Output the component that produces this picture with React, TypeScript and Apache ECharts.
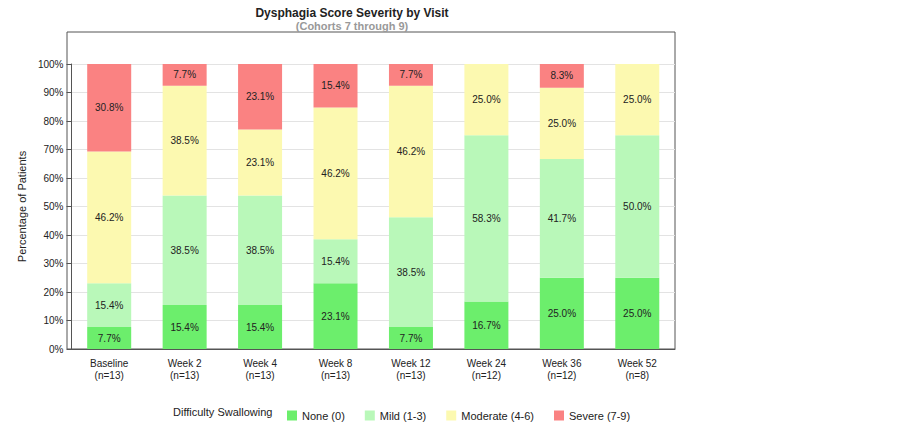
import * as echarts from "echarts";
import { useEffect, useRef } from "react";

const categories = ["Baseline\n(n=13)", "Week 2\n(n=13)", "Week 4\n(n=13)", "Week 8\n(n=13)", "Week 12\n(n=13)", "Week 24\n(n=12)", "Week 36\n(n=12)", "Week 52\n(n=8)"];
const none = [7.7, 15.4, 15.4, 23.1, 7.7, 16.7, 25.0, 25.0];
const mild = [15.4, 38.5, 38.5, 15.4, 38.5, 58.3, 41.7, 50.0];
const moderate = [46.2, 38.5, 23.1, 46.2, 46.2, 25.0, 25.0, 25.0];
const severe = [30.8, 7.7, 23.1, 15.4, 7.7, 0, 8.3, 0];

const FONT = "Arial, 'Liberation Sans', sans-serif";
const INK = "#222";

function seriesOf(name: string, data: number[], color: string) {
  return {
    name,
    type: "bar" as const,
    stack: "s",
    data,
    barWidth: 44,
    itemStyle: { color },
    label: {
      show: true,
      position: "inside" as const,
      color: INK,
      fontSize: 10,
      fontFamily: FONT,
      formatter: (p: any) => (p.value > 0 ? p.value.toFixed(1) + "%" : ""),
    },
  };
}

export default function App() {
  const ref = useRef<HTMLDivElement>(null);
  useEffect(() => {
    const el = ref.current;
    if (!el) return;
    const chart = echarts.init(el, undefined, { renderer: "svg" });
    chart.setOption({
      animation: false,
      textStyle: { fontFamily: FONT },
      title: {
        text: "Dysphagia Score Severity by Visit",
        subtext: "(Cohorts 7 through 9)",
        left: 339,
        textAlign: "center",
        top: -6,
        itemGap: 1,
        textStyle: { fontSize: 12, fontWeight: "bold", color: INK, fontFamily: FONT },
        subtextStyle: { fontSize: 11, fontWeight: "bold", color: "#999", fontFamily: FONT },
      },
      grid: { left: 59, right: 229, top: 56, bottom: 74 },
      legend: {
        left: 274,
        top: 397,
        itemWidth: 10,
        itemHeight: 10,
        itemGap: 20,
        icon: "rect",
        textStyle: { fontSize: 11, color: INK, fontFamily: FONT },
      },
      graphic: [
        {
          type: "rect",
          shape: { x: 59, y: 24, width: 608, height: 317 },
          style: { fill: "none", stroke: "#555", lineWidth: 1 },
          silent: true,
        },
        {
          type: "text",
          x: 165,
          y: 398,
          style: { text: "Difficulty Swallowing", fontSize: 11, fill: INK, fontFamily: FONT },
        },
      ],
      xAxis: {
        type: "category",
        data: categories,
        axisLine: { lineStyle: { color: "#555" } },
        axisTick: { lineStyle: { color: "#555" } },
        axisLabel: { color: INK, fontSize: 10, lineHeight: 12 },
      },
      yAxis: {
        type: "value",
        min: 0,
        max: 100,
        interval: 10,
        name: "Percentage of Patients",
        nameLocation: "middle",
        nameGap: 40,
        nameTextStyle: { fontSize: 11, color: INK },
        axisLine: { show: true, lineStyle: { color: "#555" } },
        axisTick: { show: true, lineStyle: { color: "#555" } },
        axisLabel: { color: INK, fontSize: 10, formatter: "{value}%" },
        splitLine: { lineStyle: { color: "#e3e3e3" } },
      },
      series: [
        seriesOf("None (0)", none, "#6cee6c"),
        seriesOf("Mild (1-3)", mild, "#b9f8b9"),
        seriesOf("Moderate (4-6)", moderate, "#fcf9b0"),
        seriesOf("Severe (7-9)", severe, "#fa8282"),
      ],
    });
    return () => chart.dispose();
  }, []);
  return <div ref={ref} style={{ width: 896, height: 415 }} />;
}
